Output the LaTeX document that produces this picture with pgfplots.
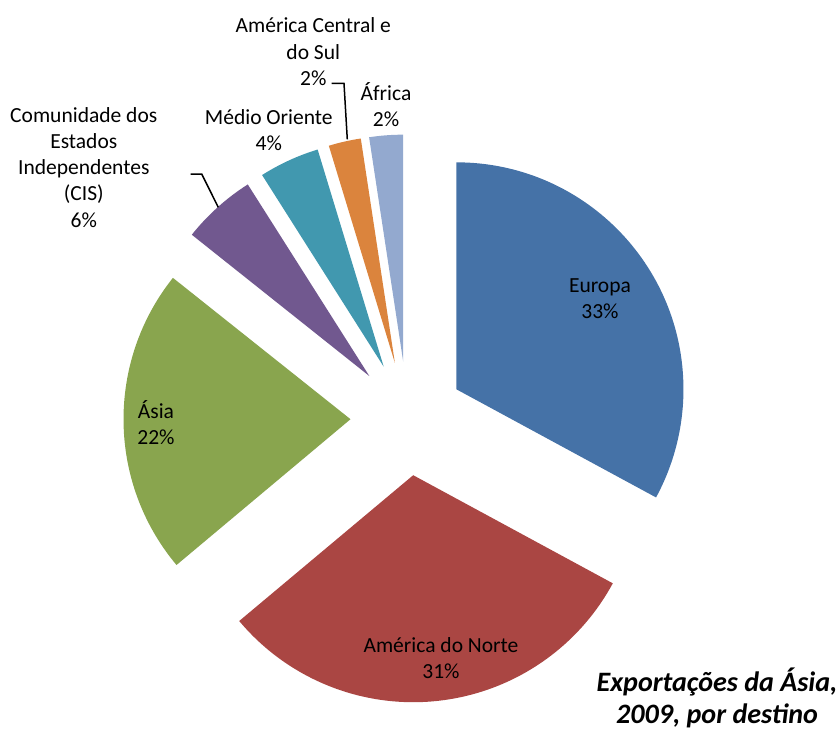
\documentclass[border=0pt]{standalone}
\usepackage{pgfplots}
\pgfplotsset{compat=1.18}
\usepackage{fontspec}
\setmainfont{Carlito}
\definecolor{cEur}{HTML}{4572A7}
\definecolor{cNA}{HTML}{AA4643}
\definecolor{cAs}{HTML}{89A54E}
\definecolor{cCIS}{HTML}{71588F}
\definecolor{cME}{HTML}{4198AF}
\definecolor{cCA}{HTML}{DB843D}
\definecolor{cAf}{HTML}{93A9CF}
% #1 colour, #2 cumulative share before the slice (%), #3 share (%), #4 explosion
\newcommand\slice[4]{%
  \fill[#1,shift={({90-3.6*(#2+#3/2)}:#4)}]
    (axis cs:407.5,314.5) -- ++({90-3.6*(#2)}:113.5bp)
    arc[start angle={90-3.6*(#2)}, end angle={90-3.6*(#2+#3)}, radius=113.5bp] -- cycle;}
\begin{document}
\begin{tikzpicture}
\begin{axis}[x=0.5bp, y=0.5bp, xmin=0, xmax=839, ymin=0, ymax=733,
  hide axis, clip=false]
% shares (%): Europa 32.9, America do Norte 31.0, Asia 21.8, CIS 5.3,
% Medio Oriente 4.3, America Central e do Sul 2.3, Africa 2.4
\slice{cEur}{0}{32.9}{28.5bp}
\slice{cNA}{32.9}{31.0}{28.5bp}
\slice{cAs}{63.9}{21.8}{28.5bp}
\slice{cCIS}{85.7}{5.3}{28.5bp}
\slice{cME}{91.0}{4.3}{28.5bp}
\slice{cCA}{95.3}{2.3}{28.5bp}
\slice{cAf}{97.6}{2.4}{28.5bp}
\path (axis cs:0,0) rectangle (axis cs:839,733);
\tikzset{lab/.style={align=center, inner sep=0pt, font=\fontsize{10.8}{13.1}\selectfont}}
\node[lab] at (axis cs:600,434) {Europa\\33\%};
\node[lab] at (axis cs:441,75) {América do Norte\\31\%};
\node[lab] at (axis cs:156,310) {Ásia\\22\%};
\node[lab] at (axis cs:83.8,565.5) {Comunidade dos\\Estados\\Independentes\\(CIS)\\6\%};
\node[lab] at (axis cs:268.8,603) {Médio Oriente\\4\%};
\node[lab] at (axis cs:313.3,681.3) {América Central e\\do Sul\\2\%};
\node[lab] at (axis cs:386,628.8) {África\\2\%};
\draw[black, line width=0.75bp] (axis cs:190.7,559) -- (axis cs:201.7,559) -- (axis cs:218.3,525.7);
\draw[black, line width=0.75bp] (axis cs:331.7,649.7) -- (axis cs:344,649.7) -- (axis cs:347.3,593.7);
\node[align=center, inner sep=0pt, font=\bfseries\itshape\fontsize{14.1}{16.2}\selectfont] at (axis cs:717,35) {Exportações da Ásia,\\2009, por destino};
\end{axis}
\pgfresetboundingbox
\useasboundingbox (0,0) rectangle (419.5bp,366.5bp);
\end{tikzpicture}
\end{document}
